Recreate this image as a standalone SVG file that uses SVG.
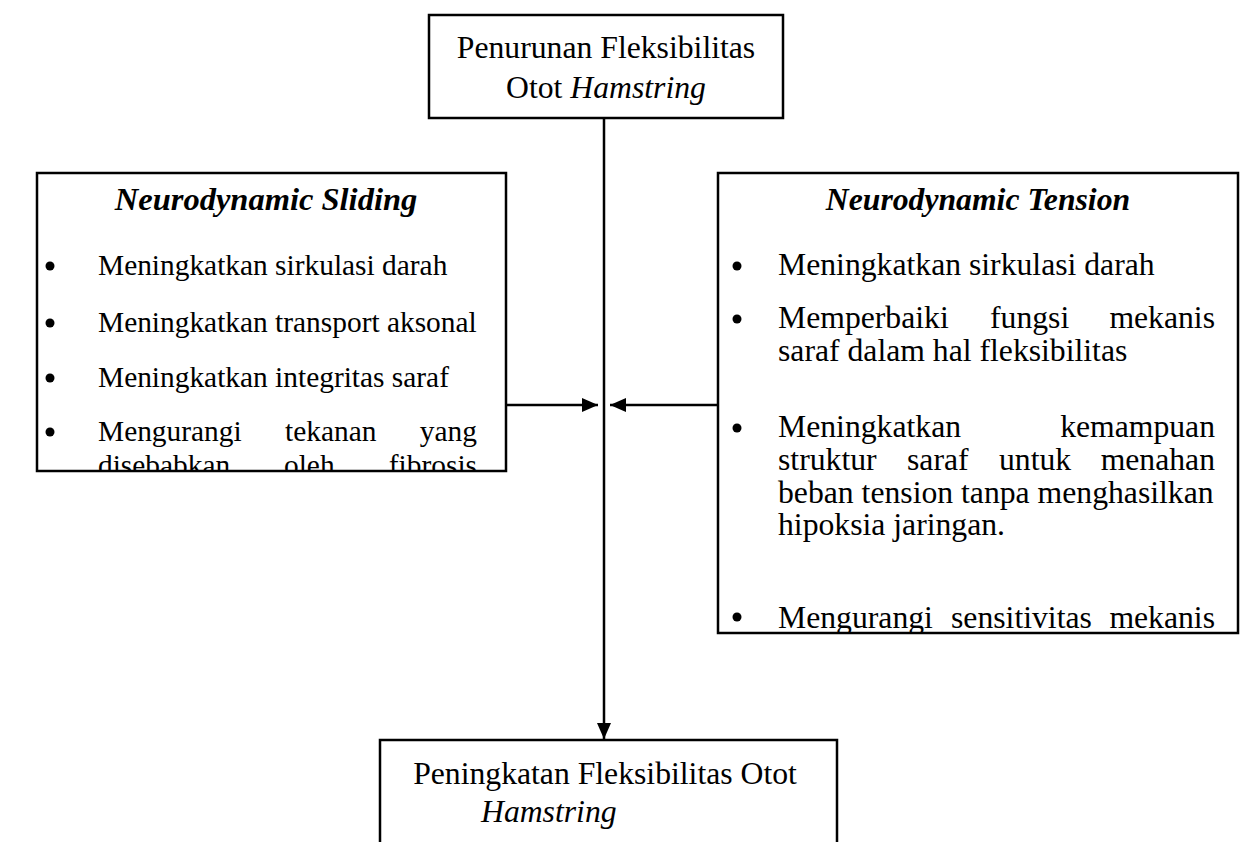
<svg xmlns="http://www.w3.org/2000/svg" width="1241" height="842" viewBox="0 0 1241 842">
<style>
  .box { fill: #ffffff; stroke: #000000; stroke-width: 2.5; }
  .t { font-family: "Liberation Serif", "Times New Roman", serif; font-size: 31.7px; fill: #000000; }
  .s { font-size: 29.4px; }
  .c { text-anchor: middle; }
  .e { text-anchor: end; }
  .it { font-style: italic; }
  .bi { font-style: italic; font-weight: bold; }
  .bul { fill: #000000; }
  .conn { stroke: #000000; stroke-width: 2.5; fill: none; }
</style>
<defs>
  <marker id="ah" markerUnits="userSpaceOnUse" markerWidth="17" markerHeight="15" refX="16" refY="7" orient="auto">
    <path d="M0,0 L16,7 L0,14 Z" fill="#000000"/>
  </marker>
  <clipPath id="clipL"><rect x="38" y="174" width="467" height="296"/></clipPath>
  <clipPath id="clipR"><rect x="719" y="174" width="518" height="458"/></clipPath>
</defs>
<rect width="1241" height="842" fill="#ffffff"/>

<g id="connectors">
  <line class="conn" x1="604" y1="118" x2="604" y2="739" marker-end="url(#ah)"/>
  <line class="conn" x1="506" y1="405" x2="598" y2="405" marker-end="url(#ah)"/>
  <line class="conn" x1="718" y1="405" x2="610" y2="405" marker-end="url(#ah)"/>
</g>

<g id="node-top">
  <rect class="box" x="429" y="15" width="354" height="103"/>
  <text class="t c" x="606" y="58">Penurunan Fleksibilitas</text>
  <text class="t c" x="606" y="98">Otot <tspan class="it">Hamstring</tspan></text>
</g>

<g id="node-sliding">
  <rect class="box" x="37" y="173" width="469" height="298"/>
  <g clip-path="url(#clipL)">
    <text class="t c bi" x="266" y="210" style="font-size:32.5px">Neurodynamic Sliding</text>
    <circle class="bul" cx="50" cy="266" r="4.5"/>
    <text class="t s" x="98" y="275">Meningkatkan sirkulasi darah</text>
    <circle class="bul" cx="50" cy="323" r="4.5"/>
    <text class="t s" x="98" y="332">Meningkatkan transport aksonal</text>
    <circle class="bul" cx="50" cy="378" r="4.5"/>
    <text class="t s" x="98" y="387">Meningkatkan integritas saraf</text>
    <circle class="bul" cx="50" cy="432" r="4.5"/>
    <text class="t s" x="98" y="441">Mengurangi</text>
    <text class="t s" x="285" y="441">tekanan</text>
    <text class="t s e" x="477" y="441">yang</text>
    <text class="t s" x="98" y="475">disebabkan</text>
    <text class="t s" x="284" y="475">oleh</text>
    <text class="t s e" x="477" y="475">fibrosis</text>
  </g>
</g>

<g id="node-tension">
  <rect class="box" x="718" y="173" width="520" height="460"/>
  <g clip-path="url(#clipR)">
    <text class="t c bi" x="978" y="210">Neurodynamic Tension</text>
    <circle class="bul" cx="737" cy="266" r="4.5"/>
    <text class="t" x="778" y="275">Meningkatkan sirkulasi darah</text>
    <circle class="bul" cx="737" cy="319" r="4.5"/>
    <text class="t" x="778" y="328">Memperbaiki</text>
    <text class="t" x="990" y="328">fungsi</text>
    <text class="t e" x="1215" y="328">mekanis</text>
    <text class="t" x="778" y="361">saraf dalam hal fleksibilitas</text>
    <circle class="bul" cx="737" cy="428" r="4.5"/>
    <text class="t" x="778" y="437">Meningkatkan</text>
    <text class="t e" x="1215" y="437">kemampuan</text>
    <text class="t" x="778" y="470">struktur</text>
    <text class="t" x="907" y="470">saraf</text>
    <text class="t" x="999" y="470">untuk</text>
    <text class="t e" x="1215" y="470">menahan</text>
    <text class="t" x="778" y="503">beban tension tanpa menghasilkan</text>
    <text class="t" x="778" y="535">hipoksia jaringan.</text>
    <circle class="bul" cx="737" cy="617" r="4.5"/>
    <text class="t" x="778" y="628">Mengurangi</text>
    <text class="t" x="951" y="628">sensitivitas</text>
    <text class="t e" x="1215" y="628">mekanis</text>
  </g>
</g>

<g id="node-bottom">
  <rect class="box" x="380" y="740" width="457" height="120"/>
  <text class="t c" x="605" y="784">Peningkatan Fleksibilitas Otot</text>
  <text class="t it" x="481" y="822">Hamstring</text>
</g>
</svg>
